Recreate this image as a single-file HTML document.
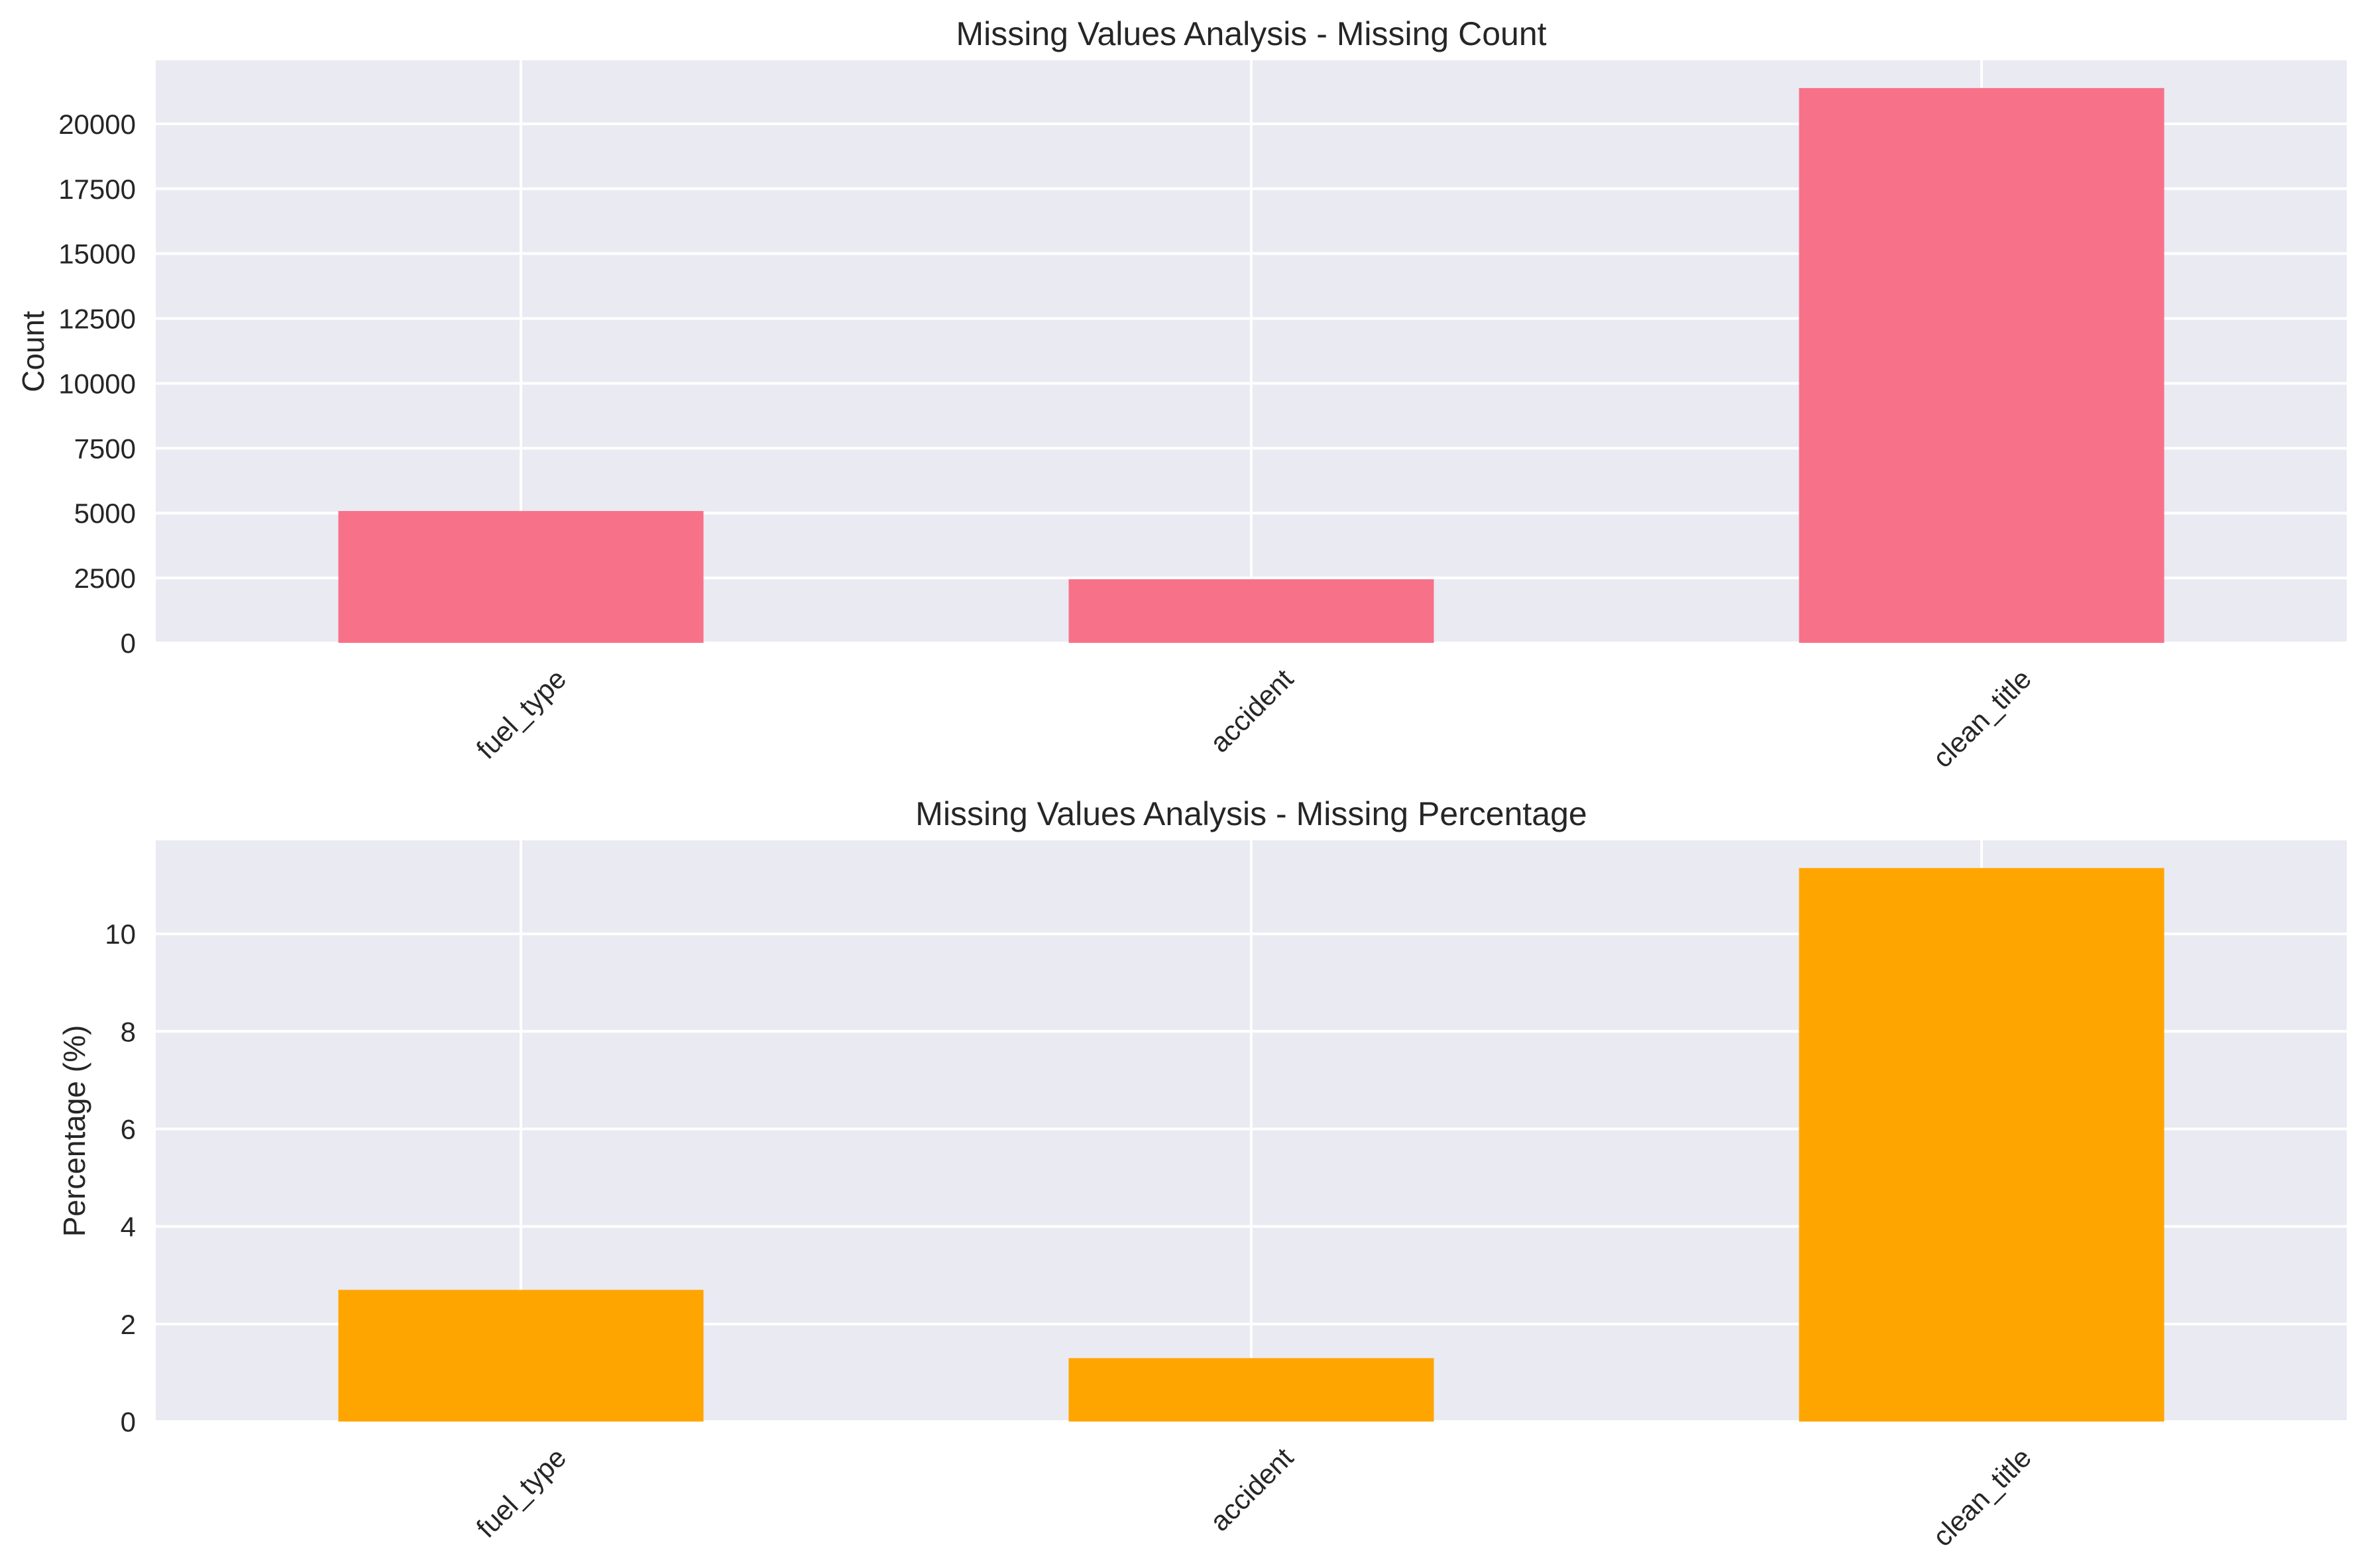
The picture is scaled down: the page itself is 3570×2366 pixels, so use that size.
<!DOCTYPE html>
<html><head><meta charset="utf-8"><style>
html,body{margin:0;padding:0;background:#fff;}
svg{display:block;font-family:"Liberation Sans",Arial,sans-serif;}
</style></head><body>
<svg id="chart" width="3570" height="2366" viewBox="0 0 3570 2366" xmlns="http://www.w3.org/2000/svg"></svg>
<script>
const categories = ["fuel_type", "accident", "clean_title"];
const countValues = [5080, 2450, 21380];
const pctValues = [2.70, 1.30, 11.35];
const countTicks = [0, 2500, 5000, 7500, 10000, 12500, 15000, 17500, 20000];
const pctTicks = [0, 2, 4, 6, 8, 10];

const NS = "http://www.w3.org/2000/svg";
const svg = document.getElementById("chart");
function mk(tag, attrs, parent) {
  const e = document.createElementNS(NS, tag);
  for (const k in attrs) e.setAttribute(k, attrs[k]);
  (parent || svg).appendChild(e);
  return e;
}

function drawPanel(cfg) {
  const g = mk("g", {});
  
  
  const L = 235, R = 3541, T = cfg.top, B = cfg.bottom;
  const ymax = Math.max(...cfg.values) * 1.05;
  const xs = i => L + (i + 0.5) / categories.length * (R - L);
  const ys = v => B - v / ymax * (B - T);
  const bg = mk("rect", {x: L, y: T, width: R - L, height: B - T, fill: "#eaeaf2"}, g);
  
  
  cfg.ticks.forEach(t => {
    const y = ys(t);
    const gl = mk("line", {x1: L, x2: R, y1: y, y2: y, stroke: "#fff", "stroke-width": 4}, g);
    
    
    const tl = mk("text", {x: 205, y: y + 15, "text-anchor": "end", "font-size": 42, fill: "#262626"}, g);
    
    
    tl.textContent = cfg.fmt(t);
  });
  categories.forEach((c, i) => {
    const x = xs(i);
    const gl = mk("line", {x1: x, x2: x, y1: T, y2: B, stroke: "#fff", "stroke-width": 4}, g);
    
    
  });
  const bw = (R - L) / categories.length * 0.5;
  categories.forEach((c, i) => {
    const x = xs(i), y = ys(cfg.values[i]);
    const r = mk("rect", {x: x - bw / 2, y: y, width: bw, height: B - y, fill: cfg.color}, g);
    
    
  });
  categories.forEach((c, i) => {
    const x = xs(i);
    const t = mk("text", {x: 0, y: 0, "text-anchor": "middle", "font-size": 42, fill: "#262626"}, g);
    
    
    t.textContent = c;
    const w = t.getComputedTextLength ? t.getComputedTextLength() : c.length * 22;
    const h = 30;
    const cy = B + 36 + (w + h) / (2 * Math.SQRT2);
    t.setAttribute("transform", "translate(" + x + "," + cy + ") rotate(-45) translate(0,15)");
  });
  const title = mk("text", {x: (L + R) / 2, y: T - 23, "text-anchor": "middle", "font-size": 50, fill: "#262626"}, g);
  
  
  title.textContent = cfg.title;
  const yl = mk("text", {x: 0, y: 0, "text-anchor": "middle", "font-size": 46, fill: "#262626",
    transform: "translate(" + cfg.ylabelX + "," + ((T + B) / 2) + ") rotate(-90)"}, g);
  
  
  yl.textContent = cfg.ylabel;
}

drawPanel({name: "count-panel", top: 91, bottom: 970, values: countValues, ticks: countTicks,
  color: "#f77189", title: "Missing Values Analysis - Missing Count", ylabel: "Count", ylabelX: 66,
  fmt: v => String(v)});
drawPanel({name: "percentage-panel", top: 1268, bottom: 2145, values: pctValues, ticks: pctTicks,
  color: "#ffa500", title: "Missing Values Analysis - Missing Percentage", ylabel: "Percentage (%)", ylabelX: 128,
  fmt: v => String(v)});
</script>
</body></html>
